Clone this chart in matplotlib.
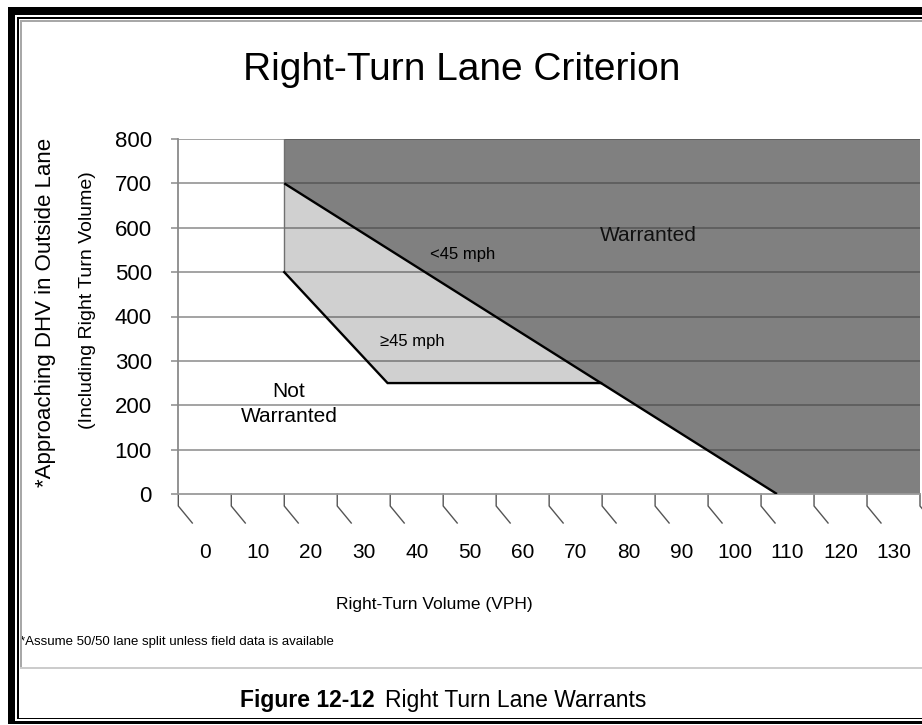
import matplotlib
matplotlib.use("Agg")
import matplotlib.pyplot as plt
from matplotlib.patches import Polygon, Rectangle
from matplotlib.lines import Line2D
import numpy as np

plt.rcParams['font.family'] = ['Liberation Sans', 'DejaVu Sans']

# ---------------- data ----------------
x_tick_labels = [0, 10, 20, 30, 40, 50, 60, 70, 80, 90, 100, 110, 120, 130]
y_ticks = [0, 100, 200, 300, 400, 500, 600, 700, 800]

# warranted region (dark) bounded by the <45 mph line
lt45_x = [15, 108]
lt45_y = [700, 0]
# >=45 mph boundary
ge45_x = [15, 15, 34.5, 74.8]
ge45_y = [700, 500, 250, 250]
x_min, x_max = -5, 135
y_min, y_max = 0, 800

W, H = 922, 725
fig = plt.figure(figsize=(W / 100, H / 100), dpi=100)
fig.patch.set_facecolor('white')

def fx(x):
    return x / W

def fy(y):
    return 1 - y / H

# plot area in pixels
L, R, T, B = 178.3, 920, 139, 494
ax = fig.add_axes([fx(L), fy(B), fx(R) - fx(L), fy(T) - fy(B)])
ax.set_xlim(x_min, x_max)
ax.set_ylim(y_min, y_max)
ax.set_facecolor('white')

# regions
dark = Polygon([(lt45_x[0], y_max), (lt45_x[0], lt45_y[0]), (lt45_x[1], lt45_y[1]),
                (x_max, y_min), (x_max, y_max)], closed=True,
               facecolor='#808080', edgecolor='none', zorder=1)
ax.add_patch(dark)
light = Polygon(list(zip(ge45_x, ge45_y)), closed=True,
                facecolor='#d0d0d0', edgecolor='none', zorder=1)
ax.add_patch(light)

# gridlines
for yv in y_ticks[1:]:
    ax.axhline(yv, color='#3a3a3a', alpha=0.5, lw=1.3, zorder=2)

# thin edges at left of shaded regions
ax.plot([lt45_x[0], lt45_x[0]], [y_max, ge45_y[1]], color='#707070', lw=1.0, zorder=3)
# boundary lines
ax.plot(lt45_x, lt45_y, color='black', lw=1.7, zorder=4, solid_capstyle='butt')
ax.plot(ge45_x[1:], ge45_y[1:], color='black', lw=1.7, zorder=4, solid_joinstyle='miter')

# spines
for s in ['top', 'right']:
    ax.spines[s].set_visible(False)
ax.spines['left'].set_color('#8a8a8a')
ax.spines['left'].set_linewidth(1.3)
ax.spines['bottom'].set_color('#9a9a9a')
ax.spines['bottom'].set_linewidth(1.3)

# y ticks
ax.set_yticks(y_ticks)
ax.set_yticklabels([str(v) for v in y_ticks], fontsize=16)
ax.tick_params(axis='y', direction='out', length=5, width=1.1, color='#8a8a8a', pad=14)

# x ticks (labels centred between boundary ticks)
ax.set_xticks(x_tick_labels)
ax.set_xticklabels([str(v) for v in x_tick_labels], fontsize=15)
ax.tick_params(axis='x', length=0, pad=35)

# custom slanted boundary ticks
axh = B - T
cat_w = (R - L) / (x_max - x_min)  # px per VPH unit
boundaries = np.arange(x_min, x_max + 1, 10)
trans = ax.get_xaxis_transform()
for bx in boundaries:
    xs = [bx, bx, bx + 14 / cat_w]
    ys = [0, -12 / axh, -29 / axh]
    ln = Line2D(xs, ys, transform=trans, color='#555555', lw=1.0, clip_on=False)
    ax.add_line(ln)

# region annotations
ax.text(42.5, 540, '<45 mph', fontsize=12, ha='left', va='center', zorder=5)
ax.text(33, 344, '≥45 mph', fontsize=12, ha='left', va='center', zorder=5)
ax.text(74.6, 583, 'Warranted', fontsize=15, ha='left', va='center', zorder=5, color='#111111')
ax.text(15.9, 203, 'Not\nWarranted', fontsize=15, ha='center', va='center',
        linespacing=1.35, zorder=5)

# titles / labels in figure coords
fig.text(fx(462), fy(70), 'Right-Turn Lane Criterion', fontsize=28, ha='center', va='center')
fig.text(fx(46), fy(312), '*Approaching DHV in Outside Lane', fontsize=16,
         rotation=90, ha='center', va='center')
fig.text(fx(88), fy(300), '(Including Right Turn Volume)', fontsize=14,
         rotation=90, ha='center', va='center')
fig.text(fx(434), fy(605), 'Right-Turn Volume (VPH)', fontsize=12.5, ha='center', va='center')
fig.text(fx(20), fy(642), '*Assume 50/50 lane split unless field data is available',
         fontsize=9.5, ha='left', va='center')
fig.text(fx(375), fy(701), 'Figure 12-12', fontsize=16.5, fontweight='bold',
         ha='right', va='center')
fig.text(fx(385), fy(701), 'Right Turn Lane Warrants', fontsize=16.5,
         ha='left', va='center')

# frame decorations
def rect(x0, y0, x1, y1, color):
    fig.add_artist(Rectangle((fx(x0), fy(y1)), fx(x1) - fx(x0), fy(y0) - fy(y1),
                             transform=fig.transFigure, facecolor=color,
                             edgecolor='none', zorder=10))

rect(8, 7, W, 15, 'black')        # top thick
rect(8, 7, 15, 724, 'black')      # left thick
rect(8, 721, W, 724, 'black')     # bottom thick
rect(17, 17, W, 18.5, 'black')    # inner thin top
rect(17, 17, 18.5, 719, 'black')  # inner thin left
rect(17, 717.5, W, 719, 'black')  # inner thin bottom
rect(20, 20.5, W, 22, '#a8a8a8')  # inner gray top
rect(20, 20.5, 21.5, 668, '#a8a8a8')  # inner gray left
rect(20, 666.5, W, 669, '#cccccc')    # separator

fig.savefig('out.png', dpi=100)
